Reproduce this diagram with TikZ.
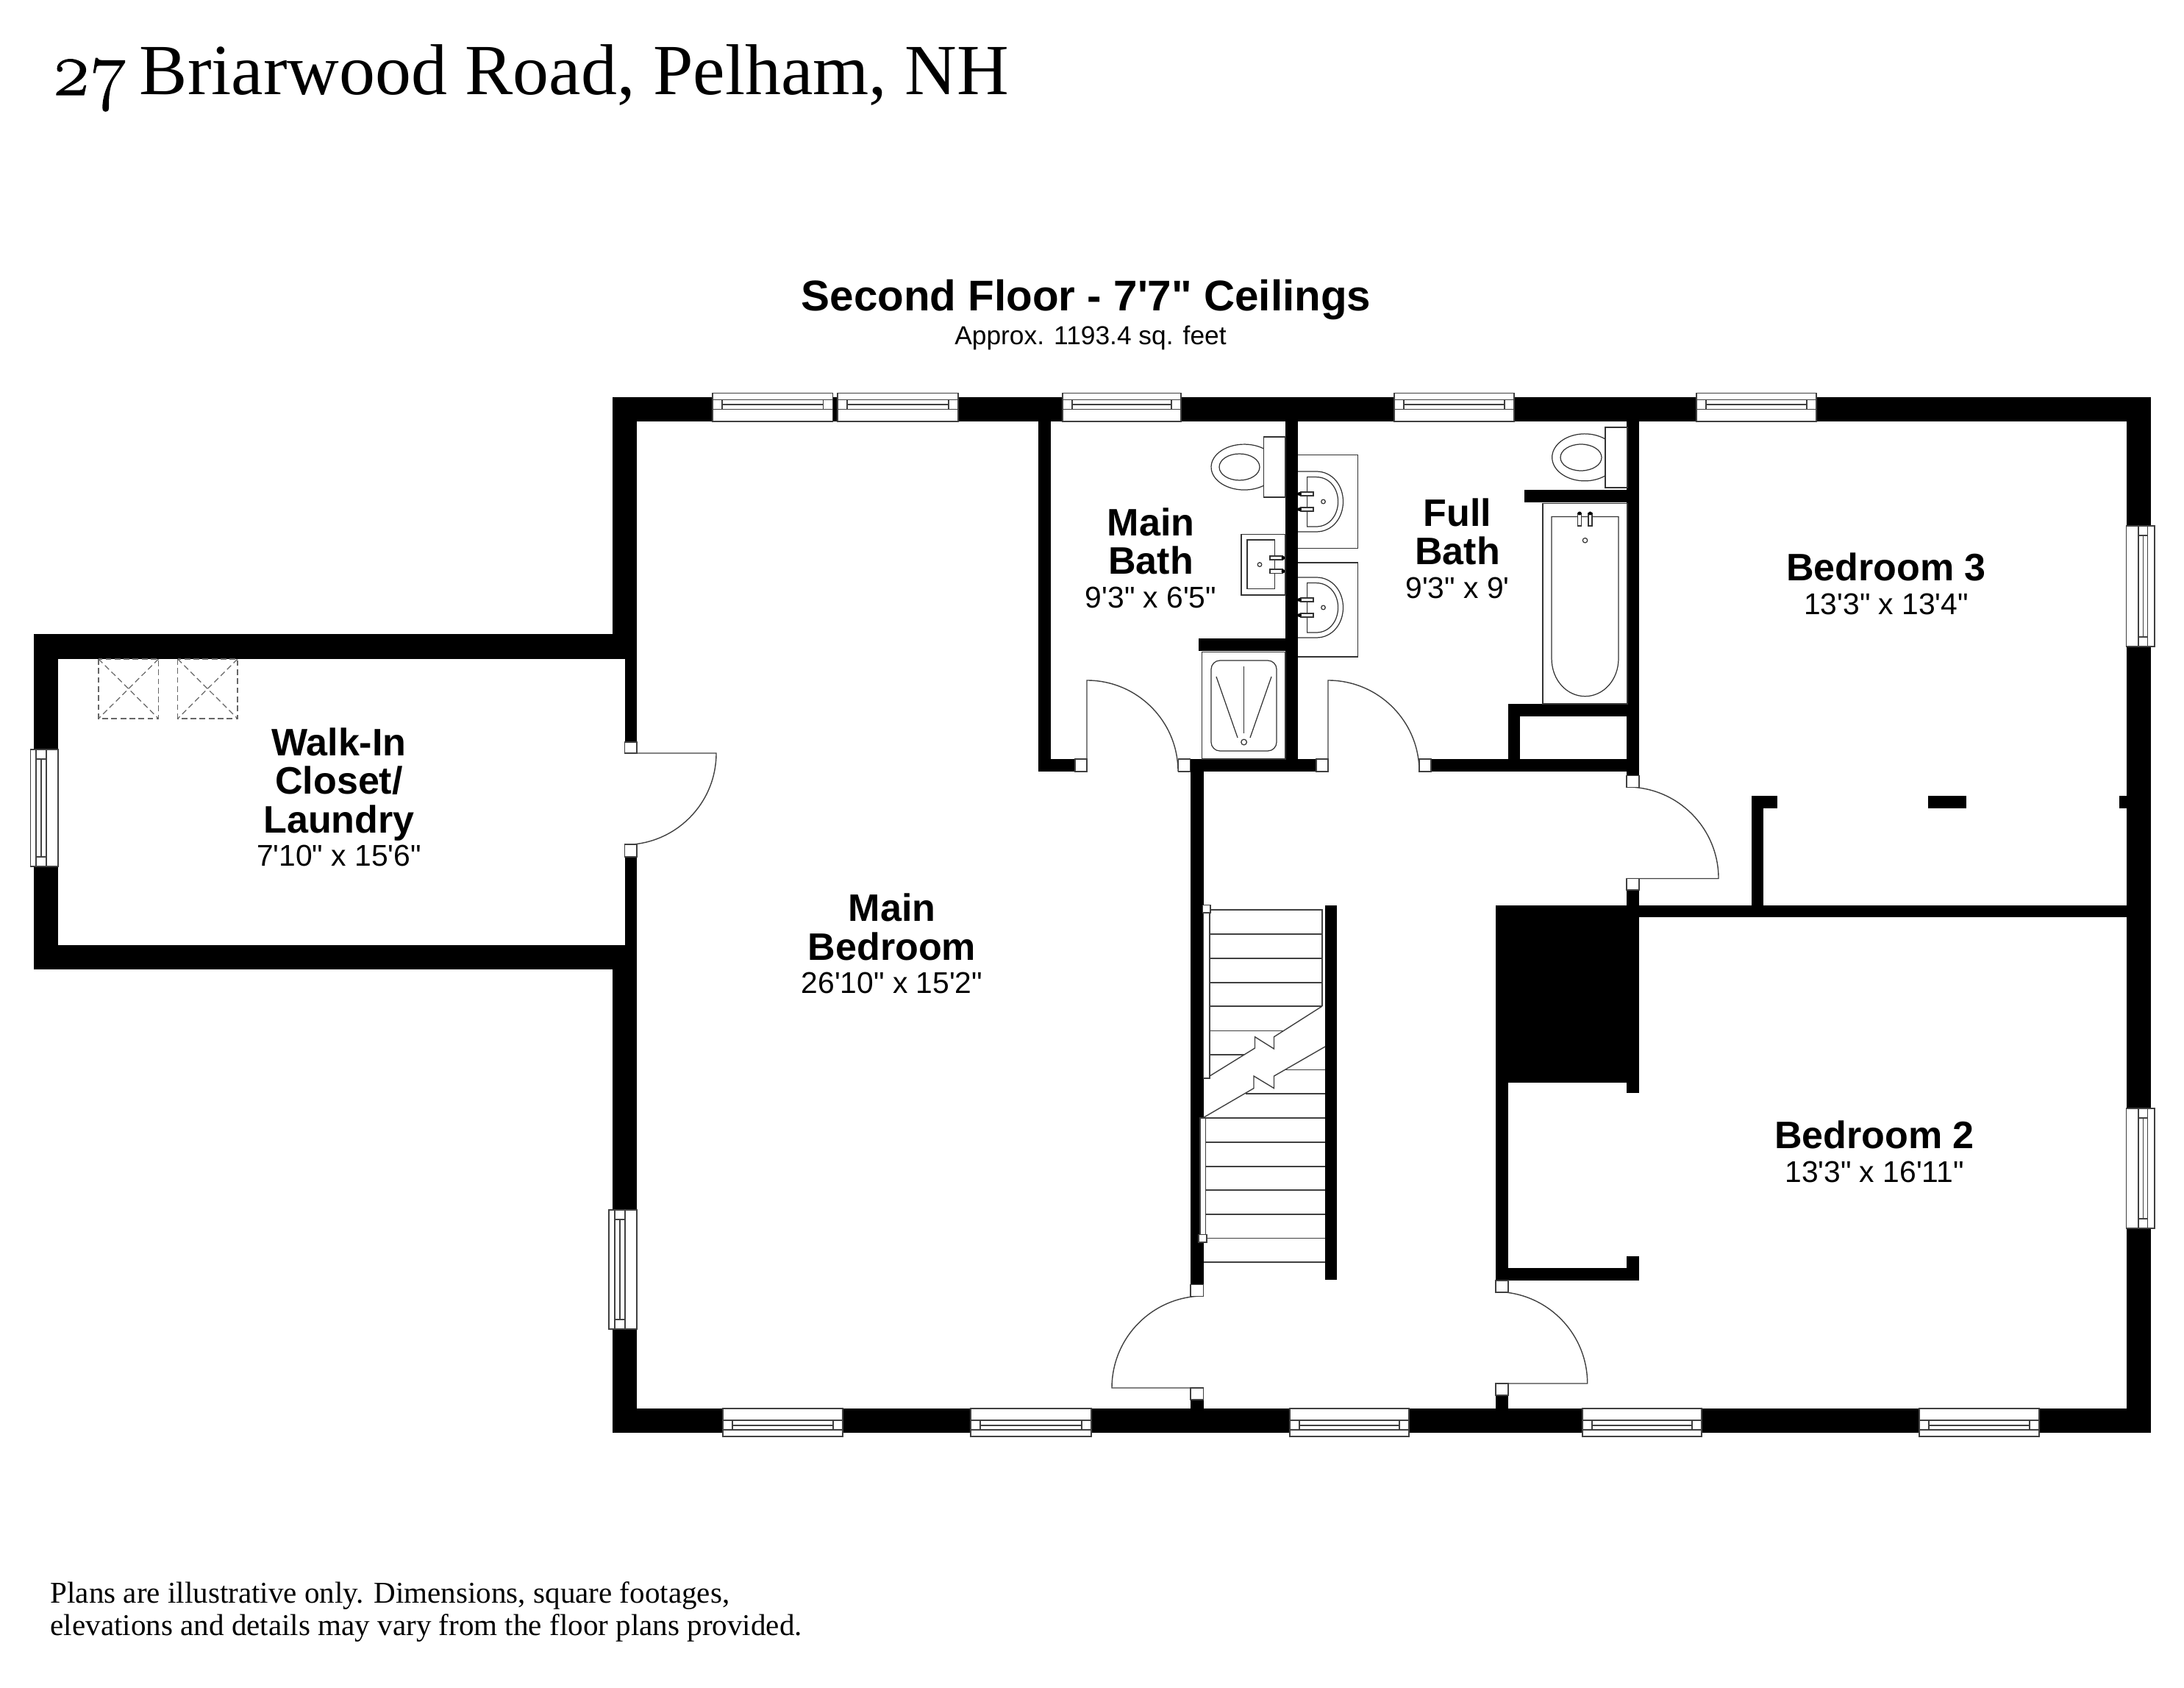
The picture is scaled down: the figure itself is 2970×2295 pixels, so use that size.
\documentclass[tikz,border=0pt]{standalone}
\usepackage{fontspec}
\newfontfamily\labelfont{Liberation Sans}
\newfontfamily\notefont{Liberation Serif}
\newfontfamily\oldfigs[Numbers=OldStyle, Scale=1.06, FakeBold=1.2]{Latin Modern Roman}
\newcommand{\roomsize}[1]{{\mdseries\fontsize{11.6}{13}\selectfont #1}}
\tikzset{
	wall/.style={fill=black, draw=none},
	thinline/.style={draw=black!75, line width=0.4pt},
	fixture/.style={draw=black!80, line width=0.35pt},
	jamb/.style={draw=black!75, fill=white, line width=0.4pt},
	roomtext/.style={align=center, inner sep=0pt, font=\labelfont\fontsize{14.8}{14.8}\selectfont\bfseries},
	skylight/.style={draw=black!60, line width=0.35pt, dash pattern=on 2.2pt off 1.3pt},
}
% windows: from, to along the wall
\def\topwin(#1,#2){
	\draw[jamb] (#1,534.5) rectangle (#2,573);
	\draw[thinline] (#1,543.5) -- (#2,543.5) (#1,556.5) -- (#2,556.5);
	\draw[thinline] (#1+13,543.5) -- (#1+13,556.5) (#2-13,543.5) -- (#2-13,556.5) (#1+13,550) -- (#2-13,550);
}
\def\botwin(#1,#2){
	\draw[jamb] (#1,1915) rectangle (#2,1953);
	\draw[thinline] (#1,1931) -- (#2,1931) (#1,1944) -- (#2,1944);
	\draw[thinline] (#1+13,1931) -- (#1+13,1944) (#2-13,1931) -- (#2-13,1944) (#1+13,1938) -- (#2-13,1938);
}
\def\sidewin(#1,#2,#3,#4,#5,#6){
	\draw[jamb] (#1,#5) rectangle (#2,#6);
	\draw[thinline] (#3,#5) -- (#3,#6) (#4,#5) -- (#4,#6);
	\draw[thinline] (#3,#5+13) -- (#4,#5+13) (#3,#6-13) -- (#4,#6-13) ({(#3+#4)/2},#5+13) -- ({(#3+#4)/2},#6-13);
}
\def\basin(#1){
	\begin{scope}[shift={(0,#1)}]
		\draw[fixture] (1765,641) -- (1790,641) .. controls (1812,641) and (1826.5,660) .. (1826.5,682) .. controls (1826.5,704) and (1812,723) .. (1790,723) -- (1765,723);
		\draw[fixture] (1777.6,648.6) -- (1790,648.6) .. controls (1808,648.6) and (1819.6,664) .. (1819.6,682) .. controls (1819.6,700) and (1808,716) .. (1790,716) -- (1777.6,716) -- cycle;
		\draw[fixture, fill=white] (1769,669) rectangle (1786,674);
		\draw[fixture, fill=white] (1769,690) rectangle (1786,695);
		\fill (1767,671.5) circle (2.5);
		\fill (1767,692.5) circle (2.5);
		\draw[fixture] (1799.5,682) circle (2.8);
	\end{scope}
}

\begin{document}
\begin{tikzpicture}[x=0.01cm, y=-0.01cm]
	\useasboundingbox (0,0) rectangle (2970,2295);

	%%%%% walls %%%%%
	\fill[wall] (833,540) rectangle (2924.5,573);
	\fill[wall] (833,1915) rectangle (2924.5,1948);
	\fill[wall] (833,540) rectangle (866,896);
	\fill[wall] (833,1285) rectangle (866,1948);
	\fill[wall] (2891.5,540) rectangle (2924.5,1948);

	\fill[wall] (46,862.5) rectangle (866,896);
	\fill[wall] (46,1285) rectangle (866,1318);
	\fill[wall] (46,862.5) rectangle (79,1318);
	\fill[wall] (849.5,896) rectangle (866,1009);
	\fill[wall] (849.5,1165) rectangle (866,1285);

	\fill[wall] (1412,573) rectangle (1429,1049);
	\fill[wall] (1412,1032) rectangle (1462,1049);
	\fill[wall] (1618.6,1032) rectangle (1790,1049);
	\fill[wall] (1748,573) rectangle (1765,1049);
	\fill[wall] (1630,868) rectangle (1748,884.7);
	\fill[wall] (1946,1032) rectangle (2229,1049);
	\fill[wall] (2212,573) rectangle (2229,1054.7);
	\fill[wall] (2073,665.8) rectangle (2229,683);
	\fill[wall] (2051,957) rectangle (2229,974);
	\fill[wall] (2051,957) rectangle (2067,1049);

	\fill[wall] (1619,1049) rectangle (1636.6,1746.7);
	\fill[wall] (1619,1903) rectangle (1636.6,1915);
	\fill[wall] (1802,1230.6) rectangle (1818,1740);

	\fill[wall] (2034,1230.6) rectangle (2229,1472);
	\fill[wall] (2034,1230.6) rectangle (2050.5,1741);
	\fill[wall] (2212,1230.6) rectangle (2229,1485.7);
	\fill[wall] (2034,1723.5) rectangle (2229,1741);
	\fill[wall] (2212,1708) rectangle (2229,1741);
	\fill[wall] (2034,1897) rectangle (2051,1915);

	\fill[wall] (2212,1210) rectangle (2229,1247);
	\fill[wall] (2212,1230.7) rectangle (2891.5,1247);
	\fill[wall] (2381.7,1081.7) rectangle (2398.4,1247);
	\fill[wall] (2381.7,1081.7) rectangle (2417,1098.6);
	\fill[wall] (2622,1081.7) rectangle (2673.5,1098.6);
	\fill[wall] (2881.7,1081.7) rectangle (2891.5,1098.6);

	%%%%% windows %%%%%
	\topwin(969,1132.5)
	\topwin(1139,1303)
	\topwin(1445,1606)
	\topwin(1896,2059)
	\topwin(2307,2470)
	\botwin(983,1146)
	\botwin(1320,1484)
	\botwin(1754,1916)
	\botwin(2152,2314)
	\botwin(2610,2773)
	\sidewin(41.5,79,49,63,1019,1178)
	\sidewin(828,866,836,850,1645,1807)
	\sidewin(2891.5,2930,2908,2920.5,715,879)
	\sidewin(2891.5,2930,2908,2920.5,1507,1670)

	%%%%% doors %%%%%
	\draw[thinline] (849.5,1024) -- (974,1024) arc (0:90:124.5);
	\draw[thinline] (1478,1049) -- (1478,925) arc (270:360:124);
	\draw[thinline] (1806,1049) -- (1806,925) arc (270:360:124);
	\draw[thinline] (2212,1194.5) -- (2337,1194.5) arc (0:-90:124.5);
	\draw[thinline] (1637,1887) -- (1512,1887) arc (180:270:125);
	\draw[thinline] (2034,1881) -- (2158.7,1881) arc (0:-90:124.7);

	\draw[jamb] (849.5,1009) rectangle (866,1024);
	\draw[jamb] (849.5,1148) rectangle (866,1165);
	\draw[jamb] (1462,1032) rectangle (1478,1049);
	\draw[jamb] (1602.6,1032) rectangle (1618.6,1049);
	\draw[jamb] (1790,1032) rectangle (1806,1049);
	\draw[jamb] (1930,1032) rectangle (1946,1049);
	\draw[jamb] (2212,1054.7) rectangle (2229,1070.5);
	\draw[jamb] (2212,1194.5) rectangle (2229,1210);
	\draw[jamb] (1619,1746.7) rectangle (1636.6,1762.7);
	\draw[jamb] (1619,1887) rectangle (1636.6,1903);
	\draw[jamb] (2034,1741) rectangle (2051,1757);
	\draw[jamb] (2034,1881) rectangle (2051,1897);

	%%%%% skylights %%%%%
	\draw[skylight] (134,896) rectangle (215.5,977);
	\draw[skylight] (134,896) -- (215.5,977) (215.5,896) -- (134,977);
	\draw[skylight] (241.7,896) rectangle (323,977);
	\draw[skylight] (241.7,896) -- (323,977) (323,896) -- (241.7,977);

	%%%%% main bath %%%%%
	\draw[fixture] (1718.5,594) rectangle (1748,676);
	\draw[fixture] (1718.5,610) arc (-54:-306:45 and 31);
	\draw[fixture] (1685.5,635) ellipse (27.5 and 18);
	\draw[fixture] (1688,726.7) rectangle (1748,809);
	\draw[fixture] (1696,734) rectangle (1733.5,800.5);
	\draw[fixture, fill=white] (1727,756) rectangle (1744,761);
	\draw[fixture, fill=white] (1727,774) rectangle (1744,779.5);
	\fill (1745,758.5) circle (2.5);
	\fill (1745,776.7) circle (2.5);
	\draw[fixture] (1713,767.6) circle (2.8);

	\draw[fixture] (1634.7,886.6) rectangle (1748,1032);
	\draw[fixture, rounded corners=3.4pt] (1647,898) rectangle (1736,1021);
	\draw[fixture] (1691.6,906.5) -- (1691.6,996.5);
	\draw[fixture] (1654,920) -- (1683,1003);
	\draw[fixture] (1729,920) -- (1700,1003);
	\draw[fixture] (1691.6,1009) circle (3.8);

	%%%%% full bath %%%%%
	\draw[fixture] (1765,618.7) -- (1846.6,618.7) -- (1846.6,745.8) -- (1765,745.8);
	\draw[fixture] (1765,765) -- (1846.6,765) -- (1846.6,893) -- (1765,893);
	\basin(0)
	\basin(144)

	\draw[fixture] (2183,581) rectangle (2213,663);
	\draw[fixture] (2183,597) arc (-51:-309:44.4 and 32);
	\draw[fixture] (2150,622) ellipse (28 and 18);

	\draw[fixture] (2098,684.5) rectangle (2213,957);
	\draw[fixture] (2110,702.5) -- (2201,702.5) -- (2201,895) .. controls (2201,925) and (2180,946.7) .. (2155.5,946.7) .. controls (2131,946.7) and (2110,925) .. (2110,895) -- cycle;
	\draw[fixture, fill=white] (2145.5,698) rectangle (2150.5,715);
	\draw[fixture, fill=white] (2160,698) rectangle (2165,715);
	\fill (2148,698) circle (2.5);
	\fill (2162.5,698) circle (2.5);
	\draw[fixture] (2155.5,734.7) circle (3.2);

	%%%%% stairs %%%%%
	\draw[thinline] (1645,1237) -- (1798,1237) -- (1798,1368);
	\draw[thinline] (1645,1270) -- (1798,1270);
	\draw[thinline] (1645,1303) -- (1798,1303);
	\draw[thinline] (1645,1336) -- (1798,1336);
	\draw[thinline] (1645,1368) -- (1798,1368);
	\draw[thinline] (1645,1401.5) -- (1745,1401.5);
	\draw[thinline] (1645,1434) -- (1692,1434);
	\draw[thinline] (1798,1368) -- (1732.5,1409.7) -- (1732.5,1426) -- (1706.5,1409.7) -- (1706.5,1425) -- (1645,1463);
	\draw[thinline] (1802,1423) -- (1732.5,1463) -- (1732.5,1479.6) -- (1705,1463) -- (1705,1479.6) -- (1636.6,1519.4);
	\draw[thinline] (1748,1454.6) -- (1802,1454.6);
	\draw[thinline] (1694,1487) -- (1802,1487);
	\draw[thinline] (1639,1520) -- (1802,1520);
	\draw[thinline] (1639,1553) -- (1802,1553);
	\draw[thinline] (1639,1586) -- (1802,1586);
	\draw[thinline] (1639,1618) -- (1802,1618);
	\draw[thinline] (1639,1651) -- (1802,1651);
	\draw[thinline] (1639,1683.7) -- (1802,1683.7);
	\draw[thinline] (1636.6,1716) -- (1802,1716);
	\draw[jamb] (1636.6,1237) rectangle (1645,1466);
	\draw[jamb] (1635.6,1230.6) rectangle (1646,1241);
	\draw[jamb] (1632,1520) rectangle (1639.5,1680);
	\draw[jamb] (1630,1678.6) rectangle (1641,1689);

	%%%%% text %%%%%
	\node[anchor=base west, inner sep=0pt, font=\notefont\fontsize{27.83}{30}\selectfont] (title) at (69,129) {{\oldfigs 27}\hspace{-2.2pt} Briarwood Road, Pelham, NH};
	\node[roomtext, font=\labelfont\fontsize{16.6}{18}\selectfont\bfseries] (floorname) at (1477,408) {Second Floor - 7'7" Ceilings};
	\node[inner sep=0pt, font=\labelfont\fontsize{10.05}{12}\selectfont] (floorarea) at (1483,459) {Approx. 1193.4 sq. feet};
	\node[roomtext] (closet) at (461,1084) {Walk-In\\Closet/\\Laundry\\[-1.9pt]\roomsize{7'10" x 15'6"}};
	\node[roomtext] (mainbed) at (1213,1283) {Main\\Bedroom\\[-1.9pt]\roomsize{26'10" x 15'2"}};
	\node[roomtext] (mainbath) at (1565,759) {Main\\Bath\\[-1.9pt]\roomsize{9'3" x 6'5"}};
	\node[roomtext] (fullbath) at (1982,746) {Full\\Bath\\[-1.9pt]\roomsize{9'3" x 9'}};
	\node[roomtext] (bedthree) at (2565,794) {Bedroom 3\\[-1.9pt]\roomsize{13'3" x 13'4"}};
	\node[roomtext] (bedtwo) at (2549,1566) {Bedroom 2\\[-1.9pt]\roomsize{13'3" x 16'11"}};
	\node[anchor=north west, align=left, inner sep=0pt, font=\notefont\fontsize{11.68}{12.5}\selectfont] (disclaimer) at (68,2150) {Plans are illustrative only. Dimensions, square footages,\\elevations and details may vary from the floor plans provided.};
\end{tikzpicture}
\end{document}
